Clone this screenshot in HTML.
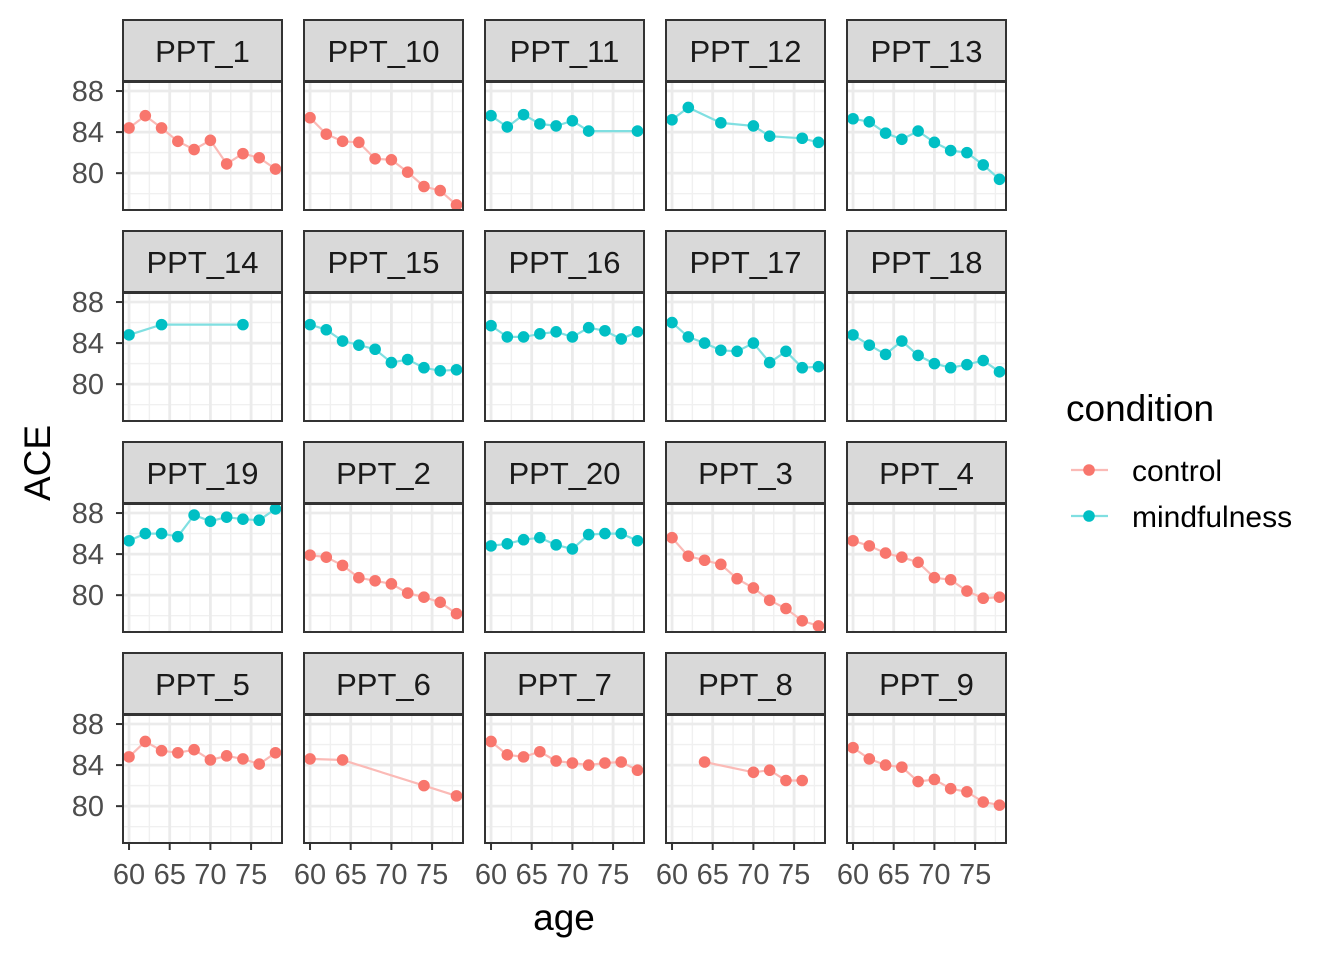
<!DOCTYPE html>
<html><head><meta charset="utf-8"><style>
html,body{margin:0;padding:0;background:#fff;}
svg{display:block;font-family:"Liberation Sans",sans-serif;}
</style></head><body>
<svg id="chart" width="1344" height="960" viewBox="0 0 1344 960">
<rect width="1344" height="960" fill="#fff"/>
</svg>
<script>
const panelNames = ["PPT_1","PPT_10","PPT_11","PPT_12","PPT_13","PPT_14","PPT_15","PPT_16","PPT_17","PPT_18","PPT_19","PPT_2","PPT_20","PPT_3","PPT_4","PPT_5","PPT_6","PPT_7","PPT_8","PPT_9"];
const panelConditions = ["control","control","mindfulness","mindfulness","mindfulness","mindfulness","mindfulness","mindfulness","mindfulness","mindfulness","mindfulness","control","mindfulness","control","control","control","control","control","control","control"];
const fullAges = [60,62,64,66,68,70,72,74,76,78];
const panelAges = [
 fullAges, fullAges, [60,62,64,66,68,70,72,78], [60,62,66,70,72,76,78], fullAges,
 [60,64,74], fullAges, fullAges, fullAges, fullAges,
 fullAges, fullAges, fullAges, fullAges, fullAges,
 fullAges, [60,64,74,78], fullAges, [64,70,72,74,76], fullAges
];
const panelValues = [
 [84.4,85.6,84.4,83.1,82.3,83.2,80.9,81.9,81.5,80.4],
 [85.4,83.8,83.1,83.0,81.4,81.3,80.1,78.7,78.3,76.9],
 [85.6,84.5,85.7,84.8,84.6,85.1,84.1,84.1],
 [85.2,86.4,84.9,84.6,83.6,83.4,83.0],
 [85.3,85.0,83.9,83.3,84.1,83.0,82.2,82.0,80.8,79.4],
 [84.8,85.8,85.8],
 [85.8,85.3,84.2,83.8,83.4,82.1,82.4,81.6,81.3,81.4],
 [85.7,84.6,84.6,84.9,85.1,84.6,85.5,85.2,84.4,85.1],
 [86.0,84.6,84.0,83.3,83.2,84.0,82.1,83.2,81.6,81.7],
 [84.8,83.8,82.9,84.2,82.8,82.0,81.6,81.9,82.3,81.2],
 [85.3,86.0,86.0,85.7,87.8,87.2,87.6,87.4,87.3,88.4],
 [83.9,83.7,82.9,81.7,81.4,81.1,80.2,79.8,79.3,78.2],
 [84.8,85.0,85.4,85.6,84.9,84.5,85.9,86.0,86.0,85.3],
 [85.6,83.8,83.4,83.0,81.6,80.7,79.5,78.7,77.5,77.0],
 [85.3,84.8,84.1,83.7,83.2,81.7,81.5,80.4,79.7,79.8],
 [84.8,86.3,85.4,85.2,85.5,84.5,84.9,84.6,84.1,85.2],
 [84.6,84.5,82.0,81.0],
 [86.3,85.0,84.8,85.3,84.4,84.2,84.0,84.2,84.3,83.5],
 [84.3,83.3,83.5,82.5,82.5],
 [85.7,84.6,84.0,83.8,82.4,82.6,81.7,81.4,80.4,80.1]
];
const xTicks = [60,65,70,75];
const yTicks = [80,84,88];
const colors = {control:"#F8766D", mindfulness:"#00BFC4"};
const lineColors = {control:"#FBBAB6", mindfulness:"#80DFE1"};

const svg = document.getElementById('chart');
const NS = "http://www.w3.org/2000/svg";
function mk(tag, attrs, parent){ const e=document.createElementNS(NS,tag); for(const k in attrs) e.setAttribute(k,attrs[k]); (parent||svg).appendChild(e); return e; }

const colX = [123,304,485,666,847], PW = 159;
const rowY = [20,231,442,653], SH = 61, PH = 128;
const xMin = 59.26, xMax = 78.8, yMin = 76.41, yMax = 88.88;
function sx(left, v){ return left + (v - xMin) / (xMax - xMin) * PW; }
function sy(top, v){ return top + PH - (v - yMin) / (yMax - yMin) * PH; }

panelNames.forEach((name, i) => {
  const c = i % 5, r = Math.floor(i / 5);
  const L = colX[c], T = rowY[r] + SH + 1;
  const g = mk('g', {});
  
  
  mk('rect', {x:L, y:T, width:PW, height:PH, fill:'#fff'}, g);
  [62.5,67.5,72.5,77.5].forEach(v => mk('line',{x1:sx(L,v),x2:sx(L,v),y1:T,y2:T+PH,stroke:'#F0F0F0','stroke-width':1.4},g));
  [78,82,86].forEach(v => mk('line',{x1:L,x2:L+PW,y1:sy(T,v),y2:sy(T,v),stroke:'#F0F0F0','stroke-width':1.4},g));
  xTicks.forEach(v => mk('line',{x1:sx(L,v),x2:sx(L,v),y1:T,y2:T+PH,stroke:'#EBEBEB','stroke-width':2.8},g));
  yTicks.forEach(v => mk('line',{x1:L,x2:L+PW,y1:sy(T,v),y2:sy(T,v),stroke:'#EBEBEB','stroke-width':2.8},g));
  const cond = panelConditions[i];
  const ages = panelAges[i], vals = panelValues[i];
  const pts = ages.map((a,j)=> sx(L,a).toFixed(1)+','+sy(T,vals[j]).toFixed(1)).join(' ');
  const pl = mk('polyline',{points:pts, fill:'none', stroke:lineColors[cond], 'stroke-width':2.2}, g);
  
  
  ages.forEach((a,j) => {
    const p = mk('circle',{cx:sx(L,a), cy:sy(T,vals[j]), r:5.8, fill:colors[cond]}, g);
    
    
  });
  mk('rect', {x:L, y:T, width:PW, height:PH, fill:'none', stroke:'#333', 'stroke-width':2}, g);
  mk('rect', {x:L, y:rowY[r], width:PW, height:SH, fill:'#D9D9D9', stroke:'#333', 'stroke-width':2}, g);
  const st = mk('text', {x:L+PW/2, y:rowY[r]+42, 'text-anchor':'middle', 'font-size':31, fill:'#1A1A1A'}, g);
  st.textContent = name;
  
  
  if (c === 0) {
    yTicks.forEach(v => {
      mk('line',{x1:L-7,x2:L,y1:sy(T,v),y2:sy(T,v),stroke:'#333','stroke-width':2},g);
      const t = mk('text',{x:L-19,y:sy(T,v)+10,'text-anchor':'end','font-size':29,fill:'#4D4D4D'},g);
      t.textContent = v;
      
      
    });
  }
  if (r === 3) {
    xTicks.forEach(v => {
      mk('line',{x1:sx(L,v),x2:sx(L,v),y1:T+PH,y2:T+PH+7,stroke:'#333','stroke-width':2},g);
      const t = mk('text',{x:sx(L,v),y:T+PH+41,'text-anchor':'middle','font-size':29,fill:'#4D4D4D'},g);
      t.textContent = v;
      
      
    });
  }
});
</script>
<script>
(function(){
  const svg = document.getElementById('chart');
  const NS = "http://www.w3.org/2000/svg";
  function mk(tag, attrs){ const e=document.createElementNS(NS,tag); for(const k in attrs) e.setAttribute(k,attrs[k]); svg.appendChild(e); return e; }
  const xt = mk('text',{x:564,y:930,'text-anchor':'middle','font-size':37,fill:'#000'});
  xt.textContent='age';
  
  
  const yt = mk('text',{x:0,y:0,'text-anchor':'middle','font-size':37,fill:'#000',transform:'translate(50,463) rotate(-90)'});
  yt.textContent='ACE';
  
  
  const lt = mk('text',{x:1066,y:421,'font-size':37,fill:'#000'});
  lt.textContent='condition';
  
  
  [["control","#F8766D","#FBBAB6",470],["mindfulness","#00BFC4","#80DFE1",516]].forEach(([n,c,lc,y])=>{
    const g = document.createElementNS(NS,'g'); svg.appendChild(g);
    
    
    const l=document.createElementNS(NS,'line'); [['x1',1071],['x2',1108],['y1',y],['y2',y],['stroke',lc],['stroke-width',2.2]].forEach(a=>l.setAttribute(a[0],a[1])); g.appendChild(l);
    const ci=document.createElementNS(NS,'circle'); [['cx',1089],['cy',y],['r',5.8],['fill',c]].forEach(a=>ci.setAttribute(a[0],a[1])); g.appendChild(ci);
    const t=document.createElementNS(NS,'text'); [['x',1132],['y',y+11],['font-size',30],['fill','#000']].forEach(a=>t.setAttribute(a[0],a[1])); t.textContent=n; g.appendChild(t);
  });
})();
</script>
</body></html>
